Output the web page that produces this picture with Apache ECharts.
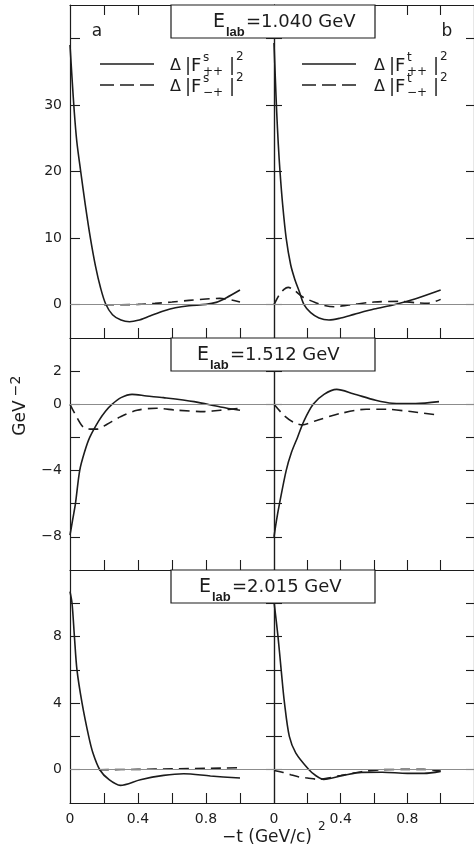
<!DOCTYPE html>
<html>
<head>
<meta charset="utf-8">
<script src="https://cdn.jsdelivr.net/npm/echarts@6/dist/echarts.min.js"></script>
<style>
  html, body { margin: 0; padding: 0; background: #fff; }
  #chart { width: 474px; height: 851px; }
</style>
</head>
<body>
<div id="chart"></div>
<script>
// -t in (GeV/c)^2, differences of squared helicity amplitudes in GeV^-2
// s-channel (column a) and t-channel (column b), three lab energies

// E_lab = 1.040 GeV
const sPP_1040 = [[0,39],[0.012,34],[0.025,29],[0.04,24.5],[0.063,20],[0.09,15],[0.12,10],[0.15,5.8],[0.18,2.5],[0.21,0.1],[0.25,-1.5],[0.3,-2.3],[0.35,-2.55],[0.4,-2.35],[0.47,-1.7],[0.55,-0.95],[0.62,-0.45],[0.7,-0.15],[0.8,0.05],[0.86,0.35],[0.92,1.05],[1.0,2.2]];
const sMP_1040 = [[0.2,0],[0.3,0],[0.4,0.05],[0.5,0.2],[0.6,0.4],[0.7,0.65],[0.8,0.85],[0.88,0.95],[0.95,0.7],[1.0,0.4]];
const tPP_1040 = [[0,39.3],[0.008,34],[0.016,29],[0.026,24],[0.036,20],[0.052,15],[0.073,10],[0.1,6],[0.125,3.8],[0.15,2.1],[0.18,0],[0.22,-1.2],[0.27,-2.0],[0.33,-2.3],[0.4,-2.0],[0.48,-1.45],[0.6,-0.65],[0.72,0],[0.85,0.9],[1.0,2.2]];
const tMP_1040 = [[0,0],[0.03,1.4],[0.06,2.3],[0.085,2.6],[0.12,2.2],[0.17,1.2],[0.25,0.3],[0.3,-0.1],[0.36,-0.3],[0.45,-0.05],[0.6,0.4],[0.75,0.5],[0.85,0.3],[0.92,0.2],[1.0,0.8]];

// E_lab = 1.512 GeV
const sPP_1512 = [[0,-7.9],[0.015,-7.0],[0.032,-6],[0.057,-4],[0.085,-2.9],[0.116,-2],[0.169,-1],[0.21,-0.4],[0.247,0],[0.3,0.4],[0.365,0.6],[0.45,0.5],[0.55,0.4],[0.73,0.16],[0.885,-0.16],[1.0,-0.36]];
const sMP_1512 = [[0,0],[0.041,-0.8],[0.08,-1.4],[0.12,-1.5],[0.16,-1.5],[0.218,-1.2],[0.296,-0.76],[0.394,-0.36],[0.51,-0.24],[0.63,-0.36],[0.79,-0.44],[0.885,-0.36],[1.0,-0.24]];
const tPP_1512 = [[0,-8],[0.015,-7.0],[0.033,-6],[0.073,-4],[0.105,-2.9],[0.141,-2],[0.18,-1],[0.235,0],[0.3,0.6],[0.376,0.9],[0.475,0.64],[0.61,0.24],[0.71,0.06],[0.85,0.04],[0.99,0.16]];
const tMP_1512 = [[0,0],[0.063,-0.7],[0.12,-1.1],[0.17,-1.24],[0.26,-0.96],[0.396,-0.56],[0.553,-0.3],[0.67,-0.3],[0.82,-0.44],[0.99,-0.66]];

// E_lab = 2.015 GeV
const sPP_2015 = [[0,10.7],[0.012,10],[0.026,8],[0.041,6],[0.071,4],[0.11,2],[0.135,1],[0.175,0],[0.23,-0.6],[0.296,-0.94],[0.414,-0.6],[0.551,-0.34],[0.669,-0.24],[0.826,-0.38],[1.0,-0.5]];
const sMP_2015 = [[0.17,0],[0.4,0.02],[0.6,0.05],[0.8,0.08],[1.0,0.12]];
const tPP_2015 = [[0,10.1],[0.024,8],[0.043,6],[0.063,4],[0.092,2],[0.131,1],[0.21,0],[0.25,-0.35],[0.298,-0.58],[0.416,-0.34],[0.525,-0.16],[0.65,-0.15],[0.8,-0.22],[0.9,-0.22],[1.0,-0.1]];
const tMP_2015 = [[0,-0.05],[0.05,-0.15],[0.1,-0.3],[0.15,-0.44],[0.2,-0.5],[0.27,-0.58],[0.4,-0.35],[0.525,-0.12],[0.65,0],[0.8,0.02],[0.9,0.02],[1.0,-0.08]];

// axis ticks and labels
const xTicks = [0.2, 0.4, 0.6, 0.8, 1.0];
const xTickLabels = [0, 0.4, 0.8];
const yTicks1040 = [0, 10, 20, 30, 40];
const yLabels1040 = [0, 10, 20, 30];
const yTicks1512 = [-8, -6, -4, -2, 0, 2];
const yLabels1512 = [-8, -4, 0, 2];
const yTicks2015 = [0, 2, 4, 6, 8, 10];
const yLabels2015 = [0, 4, 8];
const energies = ['1.040', '1.512', '2.015'];
const panelTags = ['a', 'b'];

const FONT = 'DejaVu Sans';
const INK = '#1c1c1c';

const rows = [
  { top: 5,   height: 333, min: -5,  max: 45, ticks: yTicks1040, labels: yLabels1040, s: [sPP_1040, sMP_1040], t: [tPP_1040, tMP_1040], titleY: 5,   xE: 213 },
  { top: 338, height: 232, min: -10, max: 4,  ticks: yTicks1512, labels: yLabels1512, s: [sPP_1512, sMP_1512], t: [tPP_1512, tMP_1512], titleY: 338, xE: 197 },
  { top: 570, height: 233, min: -2,  max: 12, ticks: yTicks2015, labels: yLabels2015, s: [sPP_2015, sMP_2015], t: [tPP_2015, tMP_2015], titleY: 570, xE: 199 }
];
const cols = [{ left: 70, width: 204 }, { left: 274, width: 204 }];

const grid = [], xAxis = [], yAxis = [], series = [];
const axisLine = { show: true, onZero: false, lineStyle: { color: INK, width: 1.2 } };
const tickStyle = { color: INK, width: 1.1 };
const fmtX = v => (v === 0 ? '0' : v.toFixed(1));
const fmtY = v => (v < 0 ? '\u2212' + Math.abs(v) : String(v));

rows.forEach((r, ri) => {
  cols.forEach((c, ci) => {
    const g = grid.length;
    grid.push({ left: c.left, top: r.top, width: c.width, height: r.height });
    const lastRow = ri === rows.length - 1;
    xAxis.push({
      gridIndex: g, type: 'value', position: 'bottom', min: 0, max: 1.2,
      axisLine,
      axisTick: { show: true, inside: true, length: 10, customValues: xTicks, lineStyle: tickStyle },
      axisLabel: lastRow
        ? { show: true, customValues: xTickLabels, formatter: fmtX, fontFamily: FONT, fontSize: 14, color: INK, margin: 9 }
        : { show: false },
      splitLine: { show: false }
    });
    const xi = xAxis.length - 1;
    if (ri === 0) {
      xAxis.push({
        gridIndex: g, type: 'value', position: 'top', min: 0, max: 1.2,
        axisLine,
        axisTick: { show: true, inside: true, length: 10, customValues: xTicks, lineStyle: tickStyle },
        axisLabel: { show: false }, splitLine: { show: false }
      });
    }
    yAxis.push({
      gridIndex: g, type: 'value', position: 'left', min: r.min, max: r.max,
      axisLine,
      axisTick: { show: true, inside: true, length: ci === 0 ? 10 : 8, customValues: r.ticks, lineStyle: tickStyle },
      axisLabel: ci === 0
        ? { show: true, customValues: r.labels, formatter: fmtY, fontFamily: FONT, fontSize: 14, color: INK, margin: 8 }
        : { show: false },
      splitLine: { show: false }
    });
    const yi = yAxis.length - 1;
    yAxis.push({
      gridIndex: g, type: 'value', position: 'right', min: r.min, max: r.max,
      axisLine,
      axisTick: { show: true, inside: true, length: 8, customValues: r.ticks, lineStyle: tickStyle },
      axisLabel: { show: false }, splitLine: { show: false }
    });
    const pair = ci === 0 ? r.s : r.t;
    series.push({
      type: 'line', xAxisIndex: xi, yAxisIndex: yi, data: pair[0],
      showSymbol: false, symbol: 'none', smooth: 0.3,
      lineStyle: { color: INK, width: 1.6, type: 'solid' },
      markLine: {
        silent: true, symbol: ['none', 'none'], label: { show: false },
        lineStyle: { color: '#8c8c8c', width: 1, type: 'solid' },
        data: [{ yAxis: 0 }]
      },
      z: 3
    });
    series.push({
      type: 'line', xAxisIndex: xi, yAxisIndex: yi, data: pair[1],
      showSymbol: false, symbol: 'none', smooth: 0.3,
      lineStyle: { color: INK, width: 1.6, type: [10, 6] },
      z: 3
    });
  });
});

function txt(x, y, s, size, o) {
  o = o || {};
  return {
    type: 'text', x, y, z: 100, silent: true, rotation: o.rot || 0,
    style: {
      text: s, fill: INK, fontFamily: o.family || FONT, fontSize: size,
      fontWeight: o.weight || 'normal',
      align: o.align || 'left', verticalAlign: o.va || 'middle',
      textAlign: o.align || 'left', textVerticalAlign: o.va || 'middle'
    }
  };
}

const graphic = [];

// energy boxes straddling both columns
rows.forEach((r, ri) => {
  graphic.push({ type: 'rect', z: 90, silent: true,
    shape: { x: 171, y: r.titleY, width: 204, height: 33 },
    style: { fill: '#fff', stroke: INK, lineWidth: 1.2 } });
  const cy = r.titleY + 17;
  graphic.push(txt(r.xE, cy, 'E', 19));
  graphic.push(txt(r.xE + 13, cy + 10, 'lab', 13, { weight: 'bold', family: 'Liberation Sans' }));
  graphic.push(txt(r.xE + 33, cy, '=' + energies[ri] + ' GeV', 18));
});

// panel letters
graphic.push(txt(97, 32, panelTags[0], 17, { align: 'center' }));
graphic.push(txt(447, 32, panelTags[1], 17, { align: 'center' }));

// line-style key in each upper panel
[{ x0: 100, tx: 170, ch: 's' }, { x0: 302, tx: 374, ch: 't' }].forEach(k => {
  graphic.push({ type: 'line', z: 100, silent: true, shape: { x1: k.x0, y1: 64, x2: k.x0 + 54, y2: 64 },
    style: { stroke: INK, lineWidth: 1.6 } });
  graphic.push({ type: 'line', z: 100, silent: true, shape: { x1: k.x0, y1: 85, x2: k.x0 + 54, y2: 85 },
    style: { stroke: INK, lineWidth: 1.6, lineDash: [14, 6] } });
  [[66, '++'], [87, '\u2212+']].forEach(([y, sub]) => {
    graphic.push(txt(k.tx, y, '\u0394', 16));
    graphic.push(txt(k.tx + 15, y, '|', 18));
    graphic.push(txt(k.tx + 21, y, 'F', 18));
    graphic.push(txt(k.tx + 33, y - 8, k.ch, 12));
    graphic.push(txt(k.tx + 33, y + 6, sub, 12));
    graphic.push(txt(k.tx + 59, y, '|', 18));
    graphic.push(txt(k.tx + 66, y - 9, '2', 12));
  });
});

// axis titles
graphic.push(txt(21, 418, 'GeV', 17, { align: 'center', rot: Math.PI / 2 }));
graphic.push(txt(16, 386, '\u22122', 14, { align: 'center', rot: Math.PI / 2 }));
graphic.push(txt(222, 838, '\u2212t (GeV/c)', 17));
graphic.push(txt(318, 827, '2', 12));

const chart = echarts.init(document.getElementById('chart'), null, { renderer: 'canvas' });
chart.setOption({
  animation: false,
  backgroundColor: '#fff',
  grid, xAxis, yAxis, series, graphic
});
</script>
</body>
</html>
